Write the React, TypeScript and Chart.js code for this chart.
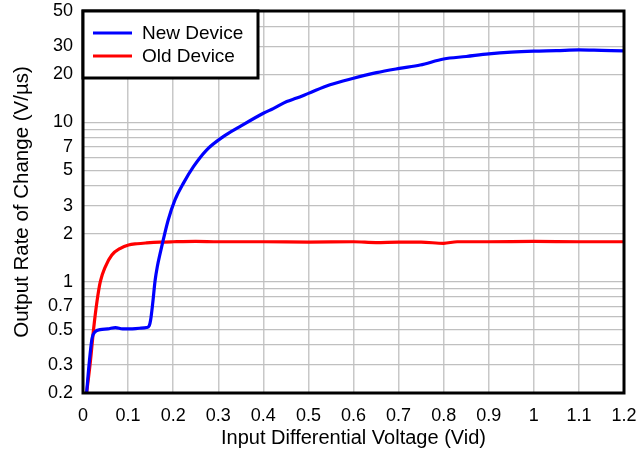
import React, { useEffect, useRef } from "react";
import { Chart, registerables } from "chart.js";

Chart.register(...registerables);

const newX = [0.008, 0.014, 0.02, 0.027, 0.038, 0.055, 0.072, 0.088, 0.104, 0.125, 0.141, 0.147, 0.15, 0.1546, 0.16, 0.165, 0.171, 0.178, 0.189, 0.204, 0.2225, 0.245, 0.274, 0.311, 0.348, 0.4, 0.422, 0.452, 0.474, 0.5, 0.548, 0.6, 0.651, 0.702, 0.748, 0.8, 0.85, 0.9, 0.95, 1.0, 1.05, 1.1, 1.15, 1.2];
const newY = [0.2, 0.314, 0.44, 0.485, 0.5, 0.505, 0.515, 0.505, 0.505, 0.51, 0.515, 0.53, 0.574, 0.73, 1.02, 1.25, 1.5, 1.83, 2.44, 3.26, 4.14, 5.27, 6.7, 8.13, 9.4, 11.4, 12.2, 13.5, 14.2, 15.2, 17.2, 18.9, 20.5, 21.8, 22.9, 25.0, 25.9, 26.9, 27.6, 28.0, 28.2, 28.5, 28.3, 28.1];

const oldX = [0.008, 0.0163, 0.0237, 0.031, 0.0384, 0.0495, 0.064, 0.083, 0.101, 0.12, 0.141, 0.17, 0.2, 0.25, 0.3, 0.4, 0.5, 0.6, 0.65, 0.7, 0.75, 0.8, 0.83, 0.9, 1.0, 1.1, 1.2];
const oldY = [0.2, 0.314, 0.51, 0.75, 1.0, 1.24, 1.47, 1.62, 1.7, 1.73, 1.75, 1.77, 1.78, 1.79, 1.78, 1.78, 1.77, 1.78, 1.76, 1.77, 1.77, 1.74, 1.78, 1.78, 1.79, 1.78, 1.78];

const xTickValues = [0, 0.1, 0.2, 0.3, 0.4, 0.5, 0.6, 0.7, 0.8, 0.9, 1.0, 1.1, 1.2];
const yTickValues = [0.2, 0.3, 0.4, 0.5, 0.6, 0.7, 0.8, 0.9, 1, 2, 3, 4, 5, 6, 7, 8, 9, 10, 20, 30, 40, 50];
const yTickLabels = [0.2, 0.3, 0.5, 0.7, 1, 2, 3, 5, 7, 10, 20, 30, 50];

const seriesLabels = ["New Device", "Old Device"];
const seriesColors = ["#0000ff", "#ff0000"];

const FONT = "'Liberation Sans', Arial, sans-serif";

const framePlugin = {
  id: "frame",
  afterDatasetsDraw(chart: any) {
    const { ctx, chartArea } = chart;
    const { left, top, right, bottom } = chartArea;
    ctx.save();
    ctx.strokeStyle = "#000";
    ctx.lineWidth = 3;
    ctx.strokeRect(left, top, right - left, bottom - top);
    ctx.restore();
  },
};

const legendPlugin = {
  id: "customLegend",
  afterDraw(chart: any) {
    const { ctx, chartArea } = chart;
    const left = chartArea.left;
    const top = chartArea.top;
    ctx.save();
    ctx.fillStyle = "#fff";
    ctx.fillRect(left, top, 175, 67);
    ctx.strokeStyle = "#000";
    ctx.lineWidth = 3;
    ctx.strokeRect(left, top, 175, 67);
    chart.data.datasets.forEach((ds: any, i: number) => {
      const y = top + 22 + i * 23;
      ctx.strokeStyle = ds.borderColor;
      ctx.lineWidth = 3;
      ctx.beginPath();
      ctx.moveTo(left + 10, y);
      ctx.lineTo(left + 49, y);
      ctx.stroke();
      ctx.fillStyle = "#000";
      ctx.font = `19px ${FONT}`;
      ctx.textBaseline = "middle";
      ctx.textAlign = "left";
      ctx.fillText(ds.label, left + 59, y + 1);
    });
    ctx.restore();
  },
};

const zeroPad = (scale: any) => {
  scale.paddingTop = 0;
  scale.paddingBottom = 0;
  scale.paddingLeft = 0;
  scale.paddingRight = 0;
};

export default function App() {
  const ref = useRef<HTMLCanvasElement | null>(null);

  useEffect(() => {
    if (!ref.current) return;
    const chart = new Chart(ref.current, {
      type: "line",
      data: {
        datasets: [
          {
            label: seriesLabels[0],
            data: newX.map((x, i) => ({ x, y: newY[i] })),
            borderColor: seriesColors[0],
            borderWidth: 3.2,
            pointRadius: 0,
            tension: 0.2,
            cubicInterpolationMode: "monotone",
            fill: false,
          },
          {
            label: seriesLabels[1],
            data: oldX.map((x, i) => ({ x, y: oldY[i] })),
            borderColor: seriesColors[1],
            borderWidth: 3.2,
            pointRadius: 0,
            tension: 0.2,
            cubicInterpolationMode: "monotone",
            fill: false,
          },
        ],
      },
      options: {
        animation: false,
        responsive: false,
        layout: { padding: { top: 11, right: 15, left: 0, bottom: 0 } },
        plugins: {
          legend: { display: false },
          tooltip: { enabled: false },
        },
        scales: {
          x: {
            type: "linear",
            min: 0,
            max: 1.2,
            afterBuildTicks: (scale: any) => {
              scale.ticks = xTickValues.map((v) => ({ value: v }));
            },
            afterFit: (scale: any) => {
              scale.height = 63;
              zeroPad(scale);
            },
            ticks: {
              autoSkip: false,
              maxRotation: 0,
              padding: 12,
              color: "#000",
              font: { family: FONT, size: 18 },
              callback: (v: any) => String(Number(Number(v).toFixed(2))),
            },
            grid: { color: "#c8c8c8", lineWidth: 1.5, drawTicks: false },
            border: { display: false },
            title: {
              display: true,
              text: "Input Differential Voltage (Vid)",
              color: "#000",
              font: { family: FONT, size: 20 },
              padding: { top: 4, bottom: 6 },
            },
          },
          y: {
            type: "logarithmic",
            min: 0.2,
            max: 50,
            afterBuildTicks: (scale: any) => {
              scale.ticks = yTickValues.map((v) => ({ value: v }));
            },
            afterFit: (scale: any) => {
              scale.width = 83;
              zeroPad(scale);
            },
            ticks: {
              autoSkip: false,
              padding: 10,
              color: "#000",
              font: { family: FONT, size: 18 },
              callback: (v: any) => (yTickLabels.includes(Number(v)) ? String(v) : ""),
            },
            grid: { color: "#c0c0c0", lineWidth: 1.2, drawTicks: false },
            border: { display: false },
            title: {
              display: true,
              text: "Output Rate of Change (V/µs)",
              color: "#000",
              font: { family: FONT, size: 20.5 },
              padding: { top: 10, bottom: 0 },
            },
          },
        },
      },
      plugins: [framePlugin, legendPlugin],
    } as any);
    return () => chart.destroy();
  }, []);

  return (
    <div style={{ position: "absolute", left: 0, top: 0, width: 639, height: 456 }}>
      <canvas ref={ref} width={639} height={456} />
    </div>
  );
}
